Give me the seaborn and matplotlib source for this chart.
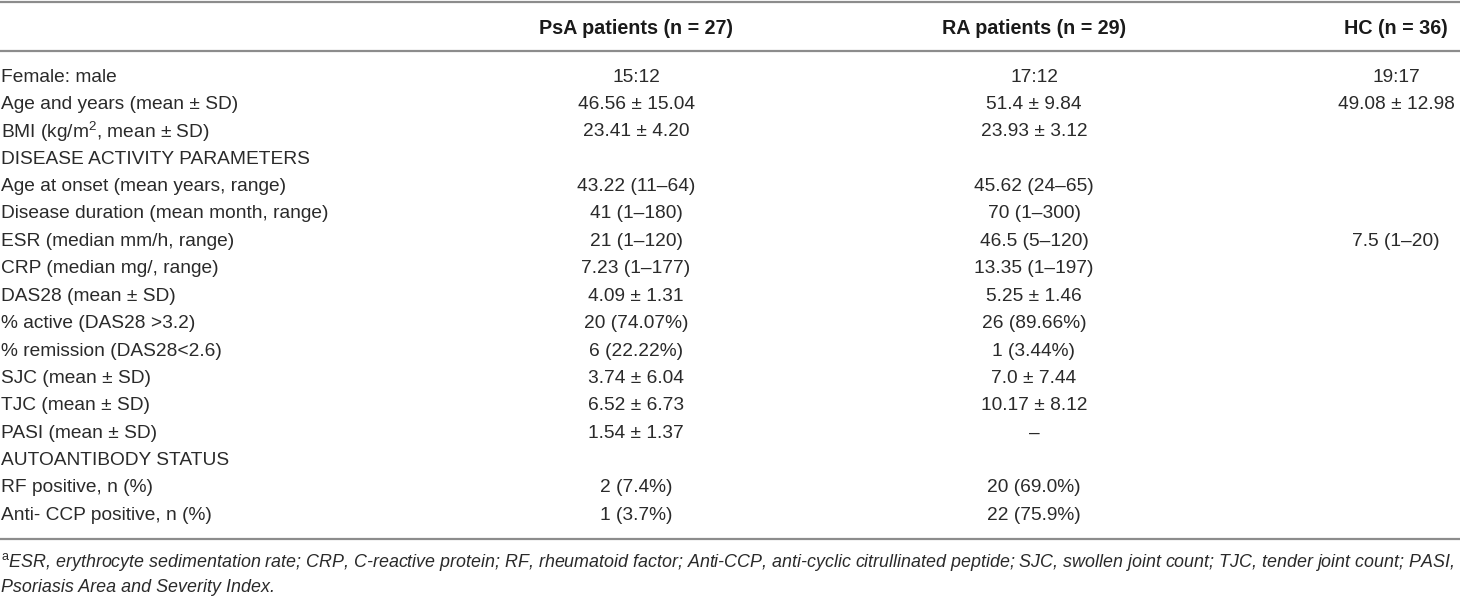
import matplotlib
matplotlib.use("Agg")
import matplotlib.pyplot as plt
import seaborn as sns

# table content
row_labels = [
    "Female: male",
    "Age and years (mean ± SD)",
    "BMI (kg/m$^2$, mean ± SD)",
    "DISEASE ACTIVITY PARAMETERS",
    "Age at onset (mean years, range)",
    "Disease duration (mean month, range)",
    "ESR (median mm/h, range)",
    "CRP (median mg/, range)",
    "DAS28 (mean ± SD)",
    "% active (DAS28 >3.2)",
    "% remission (DAS28<2.6)",
    "SJC (mean ± SD)",
    "TJC (mean ± SD)",
    "PASI (mean ± SD)",
    "AUTOANTIBODY STATUS",
    "RF positive, n (%)",
    "Anti- CCP positive, n (%)",
]
col_headers = ["PsA patients (n = 27)", "RA patients (n = 29)", "HC (n = 36)"]
psa_values = ["15:12", "46.56 ± 15.04", "23.41 ± 4.20", "", "43.22 (11–64)", "41 (1–180)",
              "21 (1–120)", "7.23 (1–177)", "4.09 ± 1.31", "20 (74.07%)", "6 (22.22%)",
              "3.74 ± 6.04", "6.52 ± 6.73", "1.54 ± 1.37", "", "2 (7.4%)", "1 (3.7%)"]
ra_values = ["17:12", "51.4 ± 9.84", "23.93 ± 3.12", "", "45.62 (24–65)", "70 (1–300)",
             "46.5 (5–120)", "13.35 (1–197)", "5.25 ± 1.46", "26 (89.66%)", "1 (3.44%)",
             "7.0 ± 7.44", "10.17 ± 8.12", "–", "", "20 (69.0%)", "22 (75.9%)"]
hc_values = ["19:17", "49.08 ± 12.98", "", "", "", "", "7.5 (1–20)", "", "", "", "",
             "", "", "", "", "", ""]
footnote = ["$^{\\mathrm{a}}$ESR, erythrocyte sedimentation rate; CRP, C-reactive protein; RF, rheumatoid factor; "
            "Anti-CCP, anti-cyclic citrullinated peptide; SJC, swollen joint count; TJC, tender joint count; PASI,",
            "Psoriasis Area and Severity Index."]

sns.set_theme(style="white")
plt.rcParams["font.family"] = ["Liberation Sans", "DejaVu Sans"]
plt.rcParams["mathtext.fontset"] = "custom"
plt.rcParams["mathtext.rm"] = "Liberation Sans"
plt.rcParams["mathtext.it"] = "Liberation Sans:italic"

W, H = 1460, 596
fig = plt.figure(figsize=(W / 100, H / 100), dpi=100)
ax = fig.add_axes([0, 0, 1, 1])
ax.set_xlim(0, W)
ax.set_ylim(H, 0)
ax.axis("off")

txt = "#2a2a2a"
rule = "#8c8c8c"
fs = 13.8

col_x = [636, 1034, 1396]
header_y = 28
row_y0, row_dy = 77, 27.4

# rules
for y in [1.5, 51, 539]:
    ax.plot([0, W], [y, y], color=rule, lw=1.6, solid_capstyle="butt")

for x, h in zip(col_x, col_headers):
    ax.text(x, header_y, h, ha="center", va="center", fontsize=14.2, fontweight="bold", color="#1a1a1a")

for i, lab in enumerate(row_labels):
    y = row_y0 + i * row_dy
    ax.text(1, y, lab, ha="left", va="center", fontsize=fs, color=txt)
    for x, vals in zip(col_x, [psa_values, ra_values, hc_values]):
        if vals[i]:
            ax.text(x, y, vals[i], ha="center", va="center", fontsize=fs, color=txt)

for j, line in enumerate(footnote):
    ax.text(1, 562 + j * 25, line, ha="left", va="center", fontsize=12.9, style="italic", color=txt)

fig.savefig("out.png", dpi=100)
